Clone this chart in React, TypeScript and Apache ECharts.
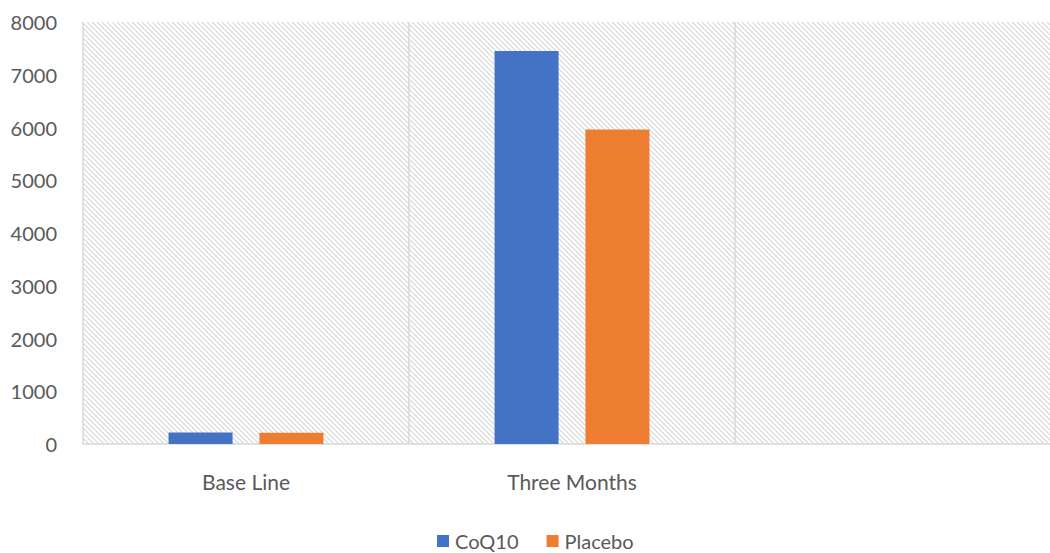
import React, { useEffect, useRef } from "react";
import * as echarts from "echarts";

const categories = ["Base Line", "Three Months", ""];
const coq10 = [220, 7450, null];
const placebo = [215, 5960, null];
const yTicks = { min: 0, max: 8000, interval: 1000 };

function makePattern(): HTMLCanvasElement {
  const c = document.createElement("canvas");
  const s = 5;
  c.width = s;
  c.height = s;
  const ctx = c.getContext("2d")!;
  ctx.fillStyle = "#ffffff";
  ctx.fillRect(0, 0, s, s);
  ctx.strokeStyle = "#d6d6d6";
  ctx.lineWidth = 1.1;
  ctx.beginPath();
  ctx.moveTo(-1, -1);
  ctx.lineTo(s + 1, s + 1);
  ctx.moveTo(-1, s - 1);
  ctx.lineTo(1, s + 1);
  ctx.moveTo(s - 1, -1);
  ctx.lineTo(s + 1, 1);
  ctx.stroke();
  return c;
}

export default function App() {
  const ref = useRef<HTMLDivElement>(null);
  useEffect(() => {
    document.body.style.margin = "0";
    document.body.style.overflow = "hidden";
    const chart = echarts.init(ref.current!, undefined, { renderer: "svg" });
    const font = "Lato, 'Noto Sans', sans-serif";
    chart.setOption({
      animation: false,
      backgroundColor: "#ffffff",
      grid: {
        left: 83,
        width: 978,
        top: 22,
        bottom: 109,
        show: true,
        borderWidth: 0,
        backgroundColor: { image: makePattern(), repeat: "repeat" },
      },
      legend: {
        top: 526,
        left: 432,
        itemWidth: 12,
        itemHeight: 12,
        itemGap: 28,
        icon: "rect",
        textStyle: {
          fontFamily: font,
          fontSize: 20,
          lineHeight: 20,
          color: "#595959",
          padding: [0, 0, 0, 1],
        },
        data: ["CoQ10", "Placebo"],
      },
      xAxis: {
        type: "category",
        data: categories,
        axisLine: { show: true, lineStyle: { color: "#d9d9d9", width: 1.5 } },
        axisTick: { show: false },
        splitLine: { show: true, lineStyle: { color: "#d9d9d9", width: 1.5 } },
        axisLabel: { fontFamily: font, fontSize: 21, color: "#595959", margin: 27 },
      },
      yAxis: {
        type: "value",
        min: yTicks.min,
        max: yTicks.max,
        interval: yTicks.interval,
        axisLine: { show: false },
        axisTick: { show: false },
        splitLine: { show: false },
        axisLabel: {
          fontFamily: font,
          fontSize: 20,
          color: "#595959",
          margin: 26,
          formatter: (v: number) => String(v),
        },
      },
      series: [
        {
          name: "CoQ10",
          type: "bar",
          data: coq10,
          barWidth: 64,
          barGap: "42%",
          itemStyle: { color: "#4472C4" },
        },
        {
          name: "Placebo",
          type: "bar",
          data: placebo,
          barWidth: 64,
          barGap: "42%",
          itemStyle: { color: "#ED7D31" },
        },
      ],
    });
    return () => chart.dispose();
  }, []);
  return <div ref={ref} style={{ width: 1062, height: 553 }} />;
}
